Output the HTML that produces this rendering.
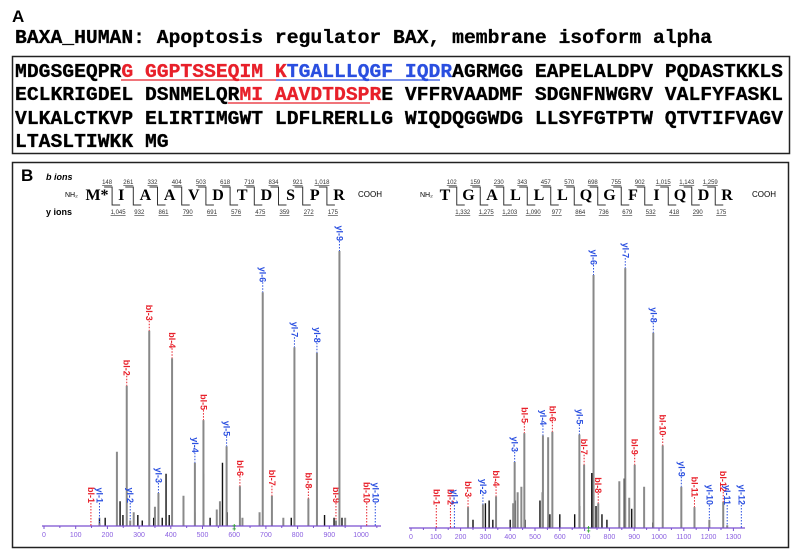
<!DOCTYPE html>
<html><head><meta charset="utf-8"><style>
html,body{margin:0;padding:0;background:#fff;}
svg{display:block;}
.mono{font-family:"Liberation Mono",monospace;font-weight:bold;}
.sans{font-family:"Liberation Sans",sans-serif;}
.serif{font-family:"Liberation Serif",serif;font-weight:bold;}
</style></head><body>
<svg id="fig" width="800" height="553" viewBox="0 0 800 553" xmlns="http://www.w3.org/2000/svg">
<text x="12" y="22" class="sans" font-weight="bold" font-size="17">A</text>
<text x="15" y="43" class="mono" font-size="19.7" stroke="#000" stroke-width="0.3">BAXA_HUMAN: Apoptosis regulator BAX, membrane isoform alpha</text>
<rect x="12.5" y="56.5" width="777" height="97" fill="none" stroke="#222" stroke-width="1.5"/>
<g class="mono" font-size="19.7">
<text x="15" y="77" stroke="#000" stroke-width="0.3">MDGSGEQPR<tspan fill="#e8202a" stroke="#e8202a">G GGPTSSEQIM K</tspan><tspan fill="#2a4fe0" stroke="#2a4fe0">TGALLLQGF IQDR</tspan>AGRMGG EAPELALDPV PQDASTKKLS</text>
<text x="15" y="100" stroke="#000" stroke-width="0.3">ECLKRIGDEL DSNMELQR<tspan fill="#e8202a" stroke="#e8202a">MI AAVDTDSPR</tspan>E VFFRVAADMF SDGNFNWGRV VALFYFASKL</text>
<text x="15" y="124" stroke="#000" stroke-width="0.3">VLKALCTKVP ELIRTIMGWT LDFLRERLLG WIQDQGGWDG LLSYFGTPTW QTVTIFVAGV</text>
<text x="15" y="147" stroke="#000" stroke-width="0.3">LTASLTIWKK MG</text>
</g>
<line x1="121" y1="80" x2="276" y2="80" stroke="#e8202a" stroke-width="1.2"/>
<line x1="276" y1="80" x2="440" y2="80" stroke="#2a4fe0" stroke-width="1.2"/>
<line x1="228" y1="103" x2="370" y2="103" stroke="#e8202a" stroke-width="1.2"/>

<rect x="12.5" y="162.5" width="776" height="385" fill="none" stroke="#222" stroke-width="1.5"/>
<text x="21" y="181" class="sans" font-weight="bold" font-size="17">B</text>
<text x="46" y="180" class="sans" font-weight="bold" font-size="9" font-style="italic">b ions</text>
<text x="46" y="215" class="sans" font-weight="bold" font-size="9">y ions</text>
<g id="hdrL"></g>
<g id="hdrR"></g>
<g id="specL"></g>
<g id="specR"></g>
</svg>
<script>
const NS="http://www.w3.org/2000/svg";
// ---- Left peptide data ----
const seqL=["M*","I","A","A","V","D","T","D","S","P","R"];
const bIonsL=["148","261","332","404","503","618","719","834","921","1,018"];
const yIonsL=["1,045","932","861","790","691","576","475","359","272","175"];
const labelMzL=[148,175,261,272,332,361,404,476,503,576,618,690,719,790,834,861,921,932,1018,1045];
const labelNameL=["b1-1","y1-1","b1-2","y1-2","b1-3","y1-3","b1-4","y1-4","b1-5","y1-5","b1-6","y1-6","b1-7","y1-7","b1-8","y1-8","b1-9","y1-9","b1-10","y1-10"];
const labelIntL=[0,1,51,2,71,12,61,23,38.5,29,14.5,85,11,65,10,63,2,100,0,0];
const otherMzL=[175,193,230,240,249,283,296,310,346,350,373,385,395,440,476,503,524,545,555,563,578,626,680,690,755,780,861,885,915,940,950];
const otherIntL=[3,3,27,9,4,5,4,2,3,7,3,19,4,11,5,19,3,6,9,23,5,3,5,44,3,3,34,4,3,3,3];
const otherDarkL=[1,1,0,1,1,0,1,1,1,0,1,1,1,0,1,1,1,0,0,1,1,0,0,1,0,1,1,1,1,1,0];
const ticksL=[0,100,200,300,400,500,600,700,800,900,1000];
// ---- Right peptide data ----
const seqR=["T","G","A","L","L","L","Q","G","F","I","Q","D","R"];
const bIonsR=["102","159","230","343","457","570","698","755","902","1,015","1,143","1,259"];
const yIonsR=["1,332","1,275","1,203","1,090","977","864","736","679","532","418","290","175"];
const labelMzR=[102,159,175,230,290,343,418,457,532,570,679,698,736,755,864,902,977,1015,1090,1143,1203,1259,1275,1332];
const labelNameR=["b1-1","b1-2","y1-1","b1-3","y1-2","b1-4","y1-3","b1-5","y1-4","b1-6","y1-5","b1-7","y1-6","b1-8","y1-7","b1-9","y1-8","b1-10","y1-9","b1-11","y1-10","b1-12","y1-11","y1-12"];
const labelIntR=[0,0,0,7.6,8.6,11.5,24,34.5,33.7,35,34,23,92,9,94.5,23,71,30,15,7.6,3,9.5,1,0];
const otherMzR=[230,250,300,315,330,400,412,420,430,445,460,520,530,553,560,600,660,680,729,746,770,790,840,860,880,890,940,975,1015,1090,1143];
const otherIntR=[7,3,9,10,3,3,9,10,13,15,3,10,13,33,5,5,5,8,20,8,5,3,17,18,11,7,15,2,9,9,7];
const otherDarkR=[1,1,1,1,1,1,0,1,0,0,1,1,0,0,1,1,1,1,1,1,1,1,0,1,0,1,0,1,1,1,1];
const ticksR=[0,100,200,300,400,500,600,700,800,900,1000,1100,1200,1300];

function el(tag,attrs,parent){const e=document.createElementNS(NS,tag);for(const k in attrs)e.setAttribute(k,attrs[k]);parent.appendChild(e);return e;}

function header(g,seq,bI,yI,x0,dx,nhX,coohX){
  const t1=el("text",{x:nhX,y:197,"font-size":7,class:"sans"},g);t1.textContent="NH₂";
  
  
  const t2=el("text",{x:coohX,y:197,"font-size":8,class:"sans"},g);t2.textContent="COOH";
  
  
  seq.forEach((s,i)=>{
    const t=el("text",{x:x0+i*dx,y:200,"font-size":16,"text-anchor":"middle",class:"serif"},g);t.textContent=s;
    
    
  });
  for(let i=0;i<seq.length-1;i++){
    const sx=x0+(i+0.5)*dx+(i===0&&seq[0].length>1?3:0);
    const p=el("path",{d:`M${sx-8} 187 H${sx} V205 H${sx+8}`,fill:"none",stroke:"#333","stroke-width":1},g);
    
    
    if(bI[i]!==undefined){const t=el("text",{x:sx-5,y:184,"font-size":6,"text-anchor":"middle",class:"sans","text-decoration":"underline",fill:"#333"},g);t.textContent=bI[i];
      
      }
    if(yI[i]!==undefined){const t=el("text",{x:sx+6,y:214,"font-size":6,"text-anchor":"middle",class:"sans","text-decoration":"underline",fill:"#333"},g);t.textContent=yI[i];
      
      }
  }
}
header(document.getElementById("hdrL"),seqL,bIonsL,yIonsL,97,24.2,65,358);
header(document.getElementById("hdrR"),seqR,bIonsR,yIonsR,445,23.5,420,752);

function spectrum(g,cfg){
  const X=m=>cfg.x0+m*cfg.k, Y=v=>cfg.base-v*2.75;
  cfg.oMz.forEach((m,i)=>{
    const l=el("line",{x1:X(m),x2:X(m),y1:cfg.base,y2:Y(cfg.oInt[i]),stroke:cfg.oDark[i]?"#111":"#8a8a8a","stroke-width":cfg.oDark[i]?1.4:2},g);
    
    
  });
  cfg.lMz.forEach((m,i)=>{
    const x=X(m), top=Y(cfg.lInt[i]);
    const isB=cfg.lName[i][0]==="b", col=isB?"#e8202a":"#2a4fe0";
    if(cfg.lInt[i]>0){
      const l=el("line",{x1:x,x2:x,y1:cfg.base,y2:top,stroke:"#888","stroke-width":2},g);
      
      
    }
    const lb=Math.min(top-10,cfg.cap);
    const d=el("line",{x1:x,x2:x,y1:lb,y2:top,stroke:col,"stroke-width":1,"stroke-dasharray":"1.5,1.5"},g);
    
    
    const t=el("text",{x:x,y:lb,"font-size":9,"font-weight":"bold",fill:col,"text-anchor":"end","dominant-baseline":"central",class:"sans",transform:`rotate(90 ${x} ${lb})`},g);
    t.textContent=cfg.lName[i].replace("1-","l-");
    
    
  });
  const ax=el("line",{x1:cfg.x0-2,x2:cfg.xEnd,y1:cfg.base,y2:cfg.base,stroke:"#7a4fd0","stroke-width":1.2},g);
  
  
  const maxT=cfg.ticks[cfg.ticks.length-1]+50;
  for(let m=0;m<=maxT;m+=50){
    if(X(m)>cfg.xEnd)break;
    const tk=el("line",{x1:X(m),x2:X(m),y1:cfg.base,y2:cfg.base+(m%100?2:3),stroke:"#7a4fd0","stroke-width":1},g);
    
    
  }
  cfg.ticks.forEach(v=>{
    const t=el("text",{x:X(v),y:cfg.base+11,"font-size":7,"text-anchor":"middle",fill:"#8a5fe0",class:"sans"},g);
    t.textContent=v;
    
    
  });
  const pm=el("text",{x:X(cfg.prec),y:cfg.base+4,"font-size":8,"text-anchor":"middle",fill:"#1a9a1a",class:"sans","font-weight":"bold"},g);
  pm.textContent="‡";
  
  
}
spectrum(document.getElementById("specL"),{x0:44,k:0.317,base:526,xEnd:381,cap:503,ticks:ticksL,prec:600,
  lMz:labelMzL,lInt:labelIntL,lName:labelNameL,oMz:otherMzL,oInt:otherIntL,oDark:otherDarkL});
spectrum(document.getElementById("specR"),{x0:411,k:0.248,base:528,xEnd:745,cap:505,ticks:ticksR,prec:716,
  lMz:labelMzR,lInt:labelIntR,lName:labelNameR,oMz:otherMzR,oInt:otherIntR,oDark:otherDarkR});
</script>
</body></html>
